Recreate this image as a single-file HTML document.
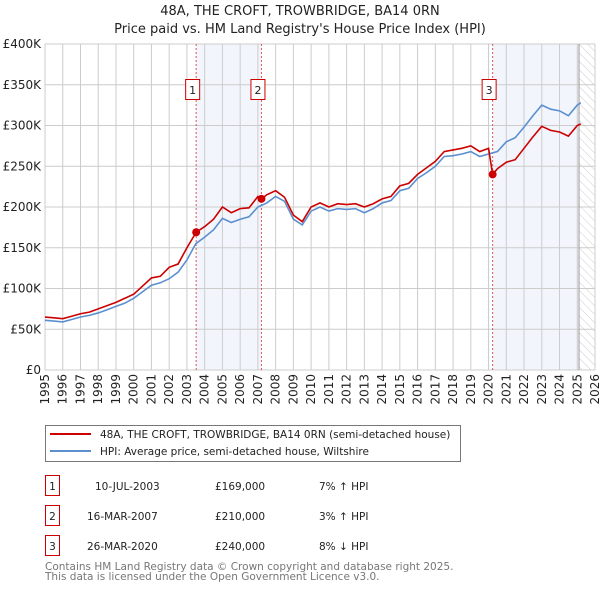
<!DOCTYPE html>
<html><head><meta charset="utf-8"><style>
body{margin:0;background:#fff;}
svg{display:block;font-family:"DejaVu Sans","Liberation Sans",sans-serif;}
</style></head><body>
<svg id="chart" width="600" height="590" viewBox="0 0 600 590">
<defs>
<pattern id="hatch" width="6" height="6" patternUnits="userSpaceOnUse" patternTransform="rotate(-45)">
<line x1="0" y1="0" x2="0" y2="6" stroke="#ccc" stroke-width="1"/></pattern>
</defs>
<text x="300" y="15" text-anchor="middle" font-size="13" fill="#222">48A, THE CROFT, TROWBRIDGE, BA14 0RN</text>
<text x="300" y="33" text-anchor="middle" font-size="13" fill="#222">Price paid vs. HM Land Registry's House Price Index (HPI)</text>
<g id="plot"></g>
<g>
<rect x="45.5" y="425.5" width="415" height="36" fill="#fff" stroke="#777"/>
<line x1="50" y1="434" x2="91" y2="434" stroke="#cc0000" stroke-width="2"/>
<text x="100" y="438" font-size="10.5" fill="#222">48A, THE CROFT, TROWBRIDGE, BA14 0RN (semi-detached house)</text>
<line x1="50" y1="451" x2="91" y2="451" stroke="#5b8fd0" stroke-width="2"/>
<text x="100" y="455" font-size="10.5" fill="#222">HPI: Average price, semi-detached house, Wiltshire</text>
</g>
<g font-size="10.5" fill="#222">
<rect x="45.5" y="475.5" width="14" height="20" fill="#fff" stroke="#cc0000"/><text x="52.5" y="490" text-anchor="middle">1</text>
<text x="95" y="490">10-JUL-2003</text><text x="215" y="490">£169,000</text><text x="319" y="490">7% ↑ HPI</text>
<rect x="45.5" y="505.5" width="14" height="20" fill="#fff" stroke="#cc0000"/><text x="52.5" y="520" text-anchor="middle">2</text>
<text x="87" y="520">16-MAR-2007</text><text x="215" y="520">£210,000</text><text x="319" y="520">3% ↑ HPI</text>
<rect x="45.5" y="535.5" width="14" height="20" fill="#fff" stroke="#cc0000"/><text x="52.5" y="550" text-anchor="middle">3</text>
<text x="87" y="550">26-MAR-2020</text><text x="215" y="550">£240,000</text><text x="319" y="550">8% ↓ HPI</text>
</g>
<text x="45" y="570" font-size="10.5" fill="#777">Contains HM Land Registry data © Crown copyright and database right 2025.</text>
<text x="45" y="580" font-size="10.5" fill="#777">This data is licensed under the Open Government Licence v3.0.</text>
</svg>
<script>
const hpiYears=[1995,1995.5,1996,1996.5,1997,1997.5,1998,1998.5,1999,1999.5,2000,2000.5,2001,2001.5,2002,2002.5,2003,2003.5,2004,2004.5,2005,2005.5,2006,2006.5,2007,2007.5,2008,2008.5,2009,2009.5,2010,2010.5,2011,2011.5,2012,2012.5,2013,2013.5,2014,2014.5,2015,2015.5,2016,2016.5,2017,2017.5,2018,2018.5,2019,2019.5,2020,2020.5,2021,2021.5,2022,2022.5,2023,2023.5,2024,2024.5,2025,2025.2];
const hpiValues=[61,60,59,62,65,67,70,74,78,82,88,96,104,107,112,120,135,155,163,172,186,181,185,188,200,205,213,207,185,178,195,200,195,198,197,198,193,198,205,208,220,223,235,242,250,262,263,265,268,262,265,268,280,285,298,312,325,320,318,312,325,328];
const priceYears=[1995,1995.5,1996,1996.5,1997,1997.5,1998,1998.5,1999,1999.5,2000,2000.5,2001,2001.5,2002,2002.5,2003,2003.52,2004,2004.5,2005,2005.5,2006,2006.5,2007,2007.2,2007.5,2008,2008.5,2009,2009.5,2010,2010.5,2011,2011.5,2012,2012.5,2013,2013.5,2014,2014.5,2015,2015.5,2016,2016.5,2017,2017.5,2018,2018.5,2019,2019.5,2020,2020.23,2020.5,2021,2021.5,2022,2022.5,2023,2023.5,2024,2024.5,2025,2025.2];
const priceValues=[65,64,63,66,69,71,75,79,83,88,93,103,113,115,126,130,150,169,176,185,200,193,198,199,213,210,215,220,212,190,182,200,205,200,204,203,204,200,204,210,213,226,229,240,248,256,268,270,272,275,268,272,240,247,255,258,272,286,299,294,292,287,300,302];
const saleLabels=["1","2","3"];
const saleYears=[2003.52,2007.2,2020.23];
const saleValues=[169,210,240];
const yTicks=[0,50,100,150,200,250,300,350,400];
const yTickLabels=["£0","£50K","£100K","£150K","£200K","£250K","£300K","£350K","£400K"];
const xTicks=[1995,1996,1997,1998,1999,2000,2001,2002,2003,2004,2005,2006,2007,2008,2009,2010,2011,2012,2013,2014,2015,2016,2017,2018,2019,2020,2021,2022,2023,2024,2025,2026];

const X0=45,X1=595,Y0=370,Y1=44;
const xs=y=>X0+(y-1995)/(2026-1995)*(X1-X0);
const ys=v=>Y0-v/400*(Y0-Y1);
const NS="http://www.w3.org/2000/svg";
const g=document.getElementById('plot');
function mk(t,a){const e=document.createElementNS(NS,t);for(const k in a)e.setAttribute(k,a[k]);g.appendChild(e);return e;}
let s=mk('rect',{x:xs(saleYears[0]),y:Y1,width:xs(saleYears[1])-xs(saleYears[0]),height:Y0-Y1,fill:'#eef3fb',opacity:0.75});


s=mk('rect',{x:xs(saleYears[2]),y:Y1,width:xs(2025.1)-xs(saleYears[2]),height:Y0-Y1,fill:'#eef3fb',opacity:0.75});


s=mk('rect',{x:xs(2025.1),y:Y1,width:X1-xs(2025.1),height:Y0-Y1,fill:'url(#hatch)'});


xTicks.forEach((t,i)=>{
 const x=xs(t);
 const l=mk('line',{x1:x,y1:Y1,x2:x,y2:Y0,stroke:'#ccc','stroke-width':1});
 
 
 const tx=mk('text',{x:0,y:0,'font-size':12,fill:'#222','text-anchor':'end',transform:`translate(${x+4},${Y0+4}) rotate(-90)`});
 tx.textContent=t;
 
 
});
yTicks.forEach((t,i)=>{
 const y=ys(t);
 const l=mk('line',{x1:X0,y1:y,x2:X1,y2:y,stroke:'#ccc','stroke-width':1});
 
 
 const tx=mk('text',{x:X0-4,y:y+4,'font-size':12,fill:'#222','text-anchor':'end'});
 tx.textContent=yTickLabels[i];
 
 
});
let nl=mk('line',{x1:xs(2025.1),y1:Y1,x2:xs(2025.1),y2:Y0,stroke:'#999','stroke-width':1});


saleYears.forEach((yr,i)=>{
 const x=xs(yr);
 const l=mk('line',{x1:x,y1:Y1,x2:x,y2:Y0,stroke:'#e05555','stroke-width':1,'stroke-dasharray':'2,2'});
 
 
 const r=mk('rect',{x:x-10.5,y:79.5,width:14,height:20,fill:'#fff',stroke:'#cc0000'});
 
 
 const t=mk('text',{x:x-3.5,y:94,'font-size':11,fill:'#222','text-anchor':'middle'});
 t.textContent=saleLabels[i];
 
 
});
const hp=mk('polyline',{points:hpiYears.map((y,i)=>xs(y)+','+ys(hpiValues[i])).join(' '),fill:'none',stroke:'#5b8fd0','stroke-width':1.6});


const pp=mk('polyline',{points:priceYears.map((y,i)=>xs(y)+','+ys(priceValues[i])).join(' '),fill:'none',stroke:'#cc0000','stroke-width':1.6});


saleYears.forEach((yr,i)=>{
 const c=mk('circle',{cx:xs(yr),cy:ys(saleValues[i]),r:4,fill:'#cc0000'});
 
 
});
</script>
</body></html>
